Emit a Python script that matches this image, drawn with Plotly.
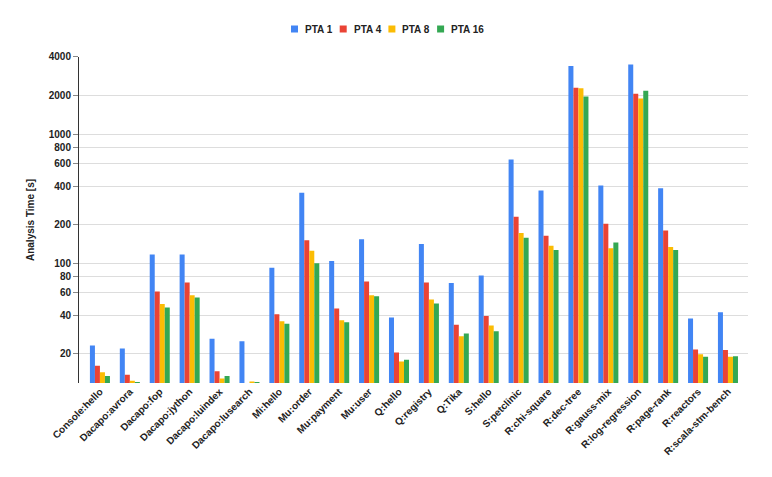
import plotly.graph_objects as go

benchmarks = [
    "Console:hello", "Dacapo:avrora", "Dacapo:fop", "Dacapo:jython", "Dacapo:luindex",
    "Dacapo:lusearch", "Mi:hello", "Mu:order", "Mu:payment", "Mu:user", "Q:hello",
    "Q:registry", "Q:Tika", "S:hello", "S:petclinic", "R:chi-square", "R:dec-tree",
    "R:gauss-mix", "R:log-regression", "R:page-rank", "R:reactors", "R:scala-stm-bench",
]

pta1 = [23.2, 22.0, 118, 118, 26.2, 25.1, 93, 354, 105, 155, 38.3,
        142, 71, 81, 641, 369, 3400, 403, 3500, 385, 37.6, 42.1]
pta4 = [16.2, 13.8, 61, 71.5, 14.7, 11.5, 40.6, 152, 45, 72.7, 20.5,
        71.5, 33.6, 39.4, 231, 165, 2310, 204, 2080, 181, 21.6, 21.4]
pta8 = [14.4, 12.4, 48.8, 57, 12.9, 12.2, 35.8, 126, 36.5, 57, 17.5,
        52.8, 27.4, 33.2, 173, 138, 2290, 132, 1910, 135, 19.9, 19.0]
pta16 = [13.5, 12.1, 45.8, 54.7, 13.5, 12.1, 34.2, 101, 35.2, 56, 18.0,
         49.1, 28.8, 30, 159, 128, 1980, 146, 2190, 128, 19.0, 19.2]

series = [("PTA 1", pta1, "#4285F4"), ("PTA 4", pta4, "#EA4335"),
          ("PTA 8", pta8, "#FBBC04"), ("PTA 16", pta16, "#34A853")]

y_ticks = [20, 40, 60, 80, 100, 200, 400, 600, 800, 1000, 2000, 4000]

fig = go.Figure()
for name, vals, color in series:
    fig.add_trace(go.Bar(x=benchmarks, y=vals, name=name, marker_color=color,
                         marker_line_width=0, showlegend=False))

# page body adds an 8px margin, so the figure is a bit smaller than the window
W, H = 764, 469
L, R, T, B = 71, 24, 49, 94
pw, ph = W - L - R, H - T - B

# custom legend: small squares + bold labels, centred on the page
leg_y = 21      # px from top of figure
start_x = 283   # px of first square
step = 48.7
sq = 7
for i, (name, _, color) in enumerate(series):
    x0 = start_x + i * step
    fig.add_shape(type="rect", xref="paper", yref="paper",
                  x0=(x0 - L) / pw, x1=(x0 + sq - L) / pw,
                  y0=(H - B - leg_y - sq / 2) / ph, y1=(H - B - leg_y + sq / 2) / ph,
                  fillcolor=color, line_width=0)
    fig.add_annotation(xref="paper", yref="paper", x=(x0 + sq + 5 - L) / pw,
                       y=(H - B - leg_y) / ph, text=f"<b>{name}</b>", showarrow=False,
                       xanchor="left", yanchor="middle",
                       font=dict(size=10, color="#222222"))

fig.update_layout(
    width=W, height=H,
    margin=dict(l=L, r=R, t=T, b=B, autoexpand=False),
    barmode="group", bargap=0.33, bargroupgap=0.0,
    plot_bgcolor="white", paper_bgcolor="white",
    font=dict(family="Liberation Sans, Arial, sans-serif", color="#222222", size=10),
    showlegend=False,
)

fig.update_xaxes(
    range=[-0.7, len(benchmarks) - 0.33],
    tickangle=-45, tickfont=dict(size=10, weight="bold"),
    showline=False, showgrid=False, ticks="", automargin=False,
)

fig.update_yaxes(
    type="log", range=[1.0755, 3.602],
    tickvals=y_ticks, ticktext=[str(v) for v in y_ticks],
    tickfont=dict(size=10, weight="bold"),
    showgrid=True, gridcolor="#dddddd", gridwidth=1,
    showline=True, linecolor="#333333", linewidth=1,
    ticks="outside", ticklen=5, tickcolor="#888888",
    zeroline=False, automargin=False,
    title=dict(text="<b>Analysis Time [s]</b>", font=dict(size=10), standoff=12),
)

fig.write_html("out.html")
